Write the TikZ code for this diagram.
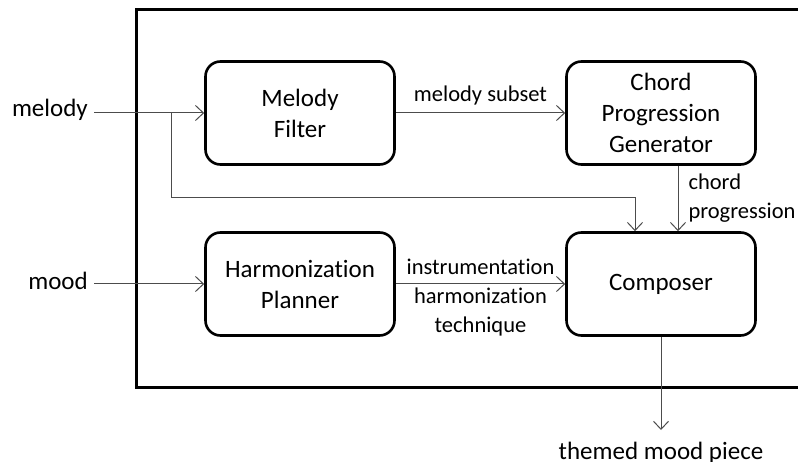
\documentclass[tikz,border=0pt]{standalone}
\usepackage{fontspec}
\setmainfont[Ligatures=NoCommon]{Carlito}
\usetikzlibrary{arrows.meta,positioning}

\begin{document}
\begin{tikzpicture}[x=1pt, y=-1pt,
	block/.style={draw=black, line width=2.6pt, rounded corners=15pt, minimum width=189pt, minimum height=103pt, align=center, font=\fontsize{25}{31}\selectfont},
	flow/.style={draw=black!70, line width=1pt, -{Straight Barb[length=8pt, width=15pt]}},
	lbl/.style={align=center, inner sep=0pt, font=\fontsize{22.5}{29}\selectfont},
	io/.style={inner sep=0pt, font=\fontsize{25}{31}\selectfont}]

	\useasboundingbox (0,0) rectangle (798,462);

	% frame of the system, right side lies outside the page
	\draw[line width=3pt] (805,10) -- (136,10) -- (136,387) -- (805,387);

	\node[block] at (300,113) (filter) {Melody\\Filter};
	\node[block] at (661,113) (chordgen) {Chord\\Progression\\Generator};
	\node[block] at (300,284) (planner) {Harmonization\\Planner};
	\node[block] at (661,284) (composer) {Composer};

	\node[io, anchor=east] at (88,110) (melody) {melody};
	\node[io, anchor=east] at (88,281) (mood) {mood};
	\node[io, anchor=north] at (661,442) (piece) {themed mood piece};

	\coordinate (split) at (171,113);
	\coordinate (joint) at (635,198);

	\draw[flow] ([xshift=6pt]melody.east |- filter) -- (filter);
	\draw[flow] ([xshift=6pt]mood.east |- planner) -- (planner);
	\draw[flow] (split) |- (joint) -- (joint |- composer.north);

	\draw[flow] (filter) -- node[lbl, above=7pt] {melody subset} (chordgen);
	\draw[flow] ([xshift=17pt]chordgen.south) -- node[lbl, right=10pt, align=left] {chord\\progression} ([xshift=17pt]composer.north);
	\draw[flow] (planner) -- node[lbl, yshift=-14pt] {instrumentation\\harmonization\\technique} (composer);
	\draw[flow] (composer) -- ([yshift=12pt]piece.north);
\end{tikzpicture}
\end{document}
